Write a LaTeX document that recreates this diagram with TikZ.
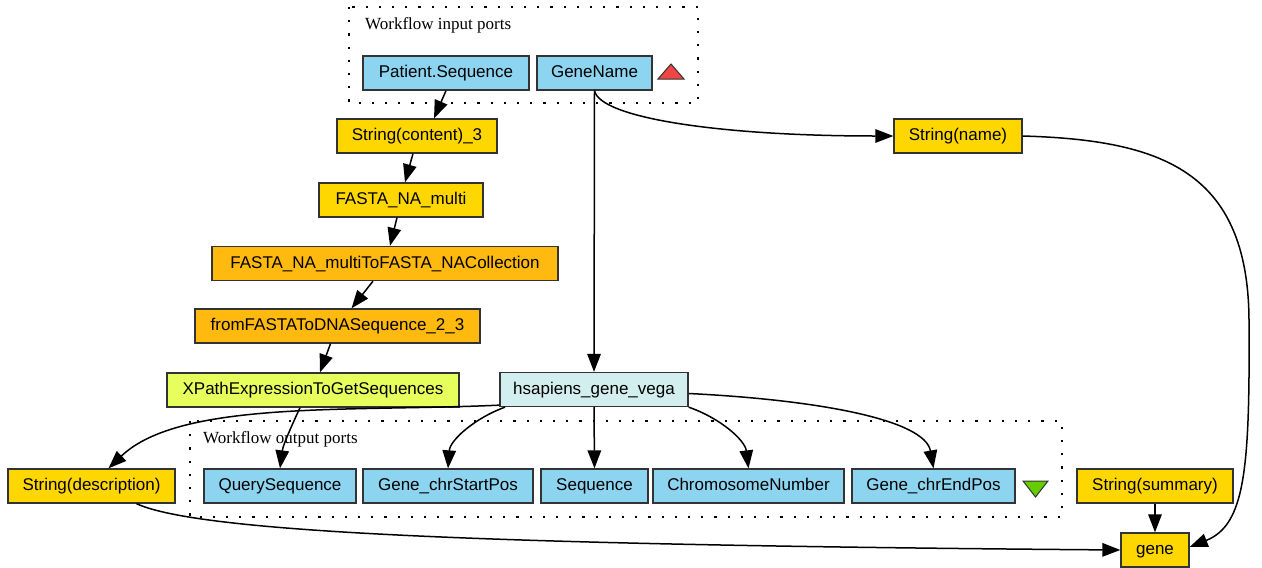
\documentclass[tikz,border=0pt]{standalone}
\usepackage{fontspec}
\setmainfont{Liberation Sans}
\newfontfamily\labelserif{Liberation Serif}
\usetikzlibrary{arrows.meta}
\definecolor{portblue}{HTML}{8DD4F0}
\definecolor{procgold}{HTML}{FFD700}
\definecolor{procorange}{HTML}{FFB90F}
\definecolor{proclime}{HTML}{E6FF5C}
\definecolor{proccyan}{HTML}{D2EEEE}
\definecolor{boxline}{HTML}{333333}
\definecolor{inred}{HTML}{F04545}
\definecolor{outgreen}{HTML}{66CC00}
\tikzset{
  box/.style={draw=boxline, line width=1.3pt, minimum height=34pt, inner sep=0pt,
    text height=12.5pt, text depth=3.5pt,
    font=\fontsize{17}{20}\selectfont},
  port/.style={box, fill=portblue},
  gold/.style={box, fill=procgold},
  orange/.style={box, fill=procorange},
  lime/.style={box, fill=proclime},
  cyanbox/.style={box, fill=proccyan},
  group/.style={draw, line width=2.2pt, dash pattern=on 2.2pt off 11pt},
  grouplabel/.style={anchor=base west, inner sep=0pt, font=\labelserif\fontsize{17}{20}\selectfont},
  link/.style={line width=1.5pt, -{Triangle[length=18pt,width=13.5pt]}}
}
\begin{document}
\begin{tikzpicture}[x=1pt, y=-1pt]
\useasboundingbox (0,0) rectangle (1262,568);

% port groups
\draw[group] (349,7) rectangle (698,103);
\node[grouplabel] (inlabel) at (365,29) {Workflow input ports};
\draw[group] (190,421) rectangle (1062,517);
\node[grouplabel] (outlabel) at (203,443) {Workflow output ports};

% direction markers
\filldraw[fill=inred, draw=boxline, line width=1pt] (658,79) -- (684,79) -- (671,64) -- cycle;
\filldraw[fill=outgreen, draw=boxline, line width=1pt] (1023,481) -- (1048,481) -- (1035.5,497) -- cycle;

% input ports
\node[port, minimum width=166pt] (psq) at (446,73) {Patient.Sequence};
\node[port, minimum width=115pt] (gn) at (594.5,73) {GeneName};

% processors
\node[gold, minimum width=160pt] (sc3) at (417,136) {String(content)\_3};
\node[gold, minimum width=164pt] (fna) at (401,200) {FASTA\_NA\_multi};
\node[orange, minimum width=346pt] (coll) at (385,263.5) {FASTA\_NA\_multiToFASTA\_NACollection};
\node[orange, minimum width=285pt] (fdna) at (337.5,326) {fromFASTAToDNASequence\_2\_3};
\node[lime, minimum width=292pt] (xp) at (313,390) {XPathExpressionToGetSequences};
\node[cyanbox, minimum width=188pt] (hs) at (594,389.5) {hsapiens\_gene\_vega};
\node[gold, minimum width=128pt] (sname) at (958,136) {String(name)};
\node[gold, minimum width=167pt] (sdesc) at (91.5,486) {String(description)};
\node[gold, minimum width=156pt] (ssum) at (1155,486) {String(summary)};
\node[gold, minimum width=68pt] (gene) at (1155,550) {gene};

% output ports
\node[port, minimum width=152pt] (qs) at (280,486) {QuerySequence};
\node[port, minimum width=170pt] (gsp) at (448,486) {Gene\_chrStartPos};
\node[port, minimum width=107pt] (seq) at (594.5,486) {Sequence};
\node[port, minimum width=191pt] (chr) at (748.5,486) {ChromosomeNumber};
\node[port, minimum width=163pt] (gep) at (933.5,486) {Gene\_chrEndPos};

% data links
\draw[link] (psq.south) -- ([xshift=17pt]sc3.north);
\draw[link] ([xshift=-4pt]sc3.south) -- ([xshift=4pt]fna.north);
\draw[link] ([xshift=-4pt]fna.south) -- ([xshift=5pt]coll.north);
\draw[link] ([xshift=-12pt]coll.south) -- ([xshift=14pt]fdna.north);
\draw[link] ([xshift=-7pt]fdna.south) -- ([xshift=7pt]xp.north);
\draw[link] ([xshift=-13pt]xp.south) .. controls (292,425) and (283,445) .. (qs.north);
\draw[link] (gn.south) -- (hs.north);
\draw[link] (gn.south) .. controls (600,118) and (720,136) .. (sname.west);
\draw[link] (sname.east) .. controls (1160,140) and (1248,170) .. (1249,320)
  .. controls (1250,470) and (1245,525) .. ([yshift=3pt]gene.east);
\draw[link] ([yshift=2pt]hs.south west) .. controls (350,412) and (180,400) .. ([xshift=17pt]sdesc.north);
\draw[link] ([xshift=-89pt]hs.south) .. controls (475,418) and (450,440) .. (gsp.north);
\draw[link] (hs.south) -- (seq.north);
\draw[link] (hs.south east) .. controls (720,418) and (745,440) .. (chr.north);
\draw[link] ([yshift=-4pt]hs.east) .. controls (820,400) and (925,420) .. (gep.north);
\draw[link] ([xshift=45pt]sdesc.south) .. controls (200,533) and (500,545) .. (gene.west);
\draw[link] (ssum.south) -- (gene.north);
\end{tikzpicture}
\end{document}
